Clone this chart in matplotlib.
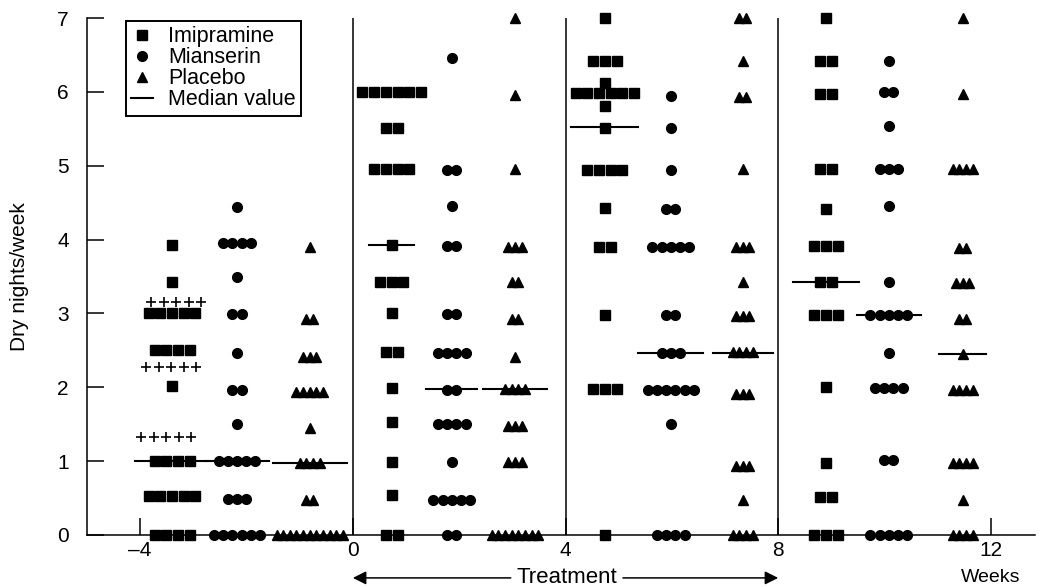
import numpy as np
import matplotlib
matplotlib.use("Agg")
import matplotlib.pyplot as plt
from matplotlib.lines import Line2D
from matplotlib import transforms

plt.rcParams['font.family'] = ['Liberation Sans', 'DejaVu Sans']

# (dry nights/week, number of children) per row, one list per drug and period
imip_base = [(3.92, 1), (3.43, 1), (3.0, 5), (2.5, 4), (2.02, 1), (1.0, 4), (0.53, 5), (0.0, 4)]
mian_base = [(4.44, 1), (3.96, 4), (3.49, 1), (2.99, 2), (2.46, 1), (1.96, 2), (1.5, 1),
             (1.0, 5), (0.49, 3), (0.0, 6)]
plac_base = [(3.9, 1), (2.92, 2), (2.41, 3), (1.93, 5), (1.45, 1), (0.98, 4), (0.47, 2), (0.0, 11)]

imip_wk4 = [(6.0, 6), (5.51, 2), (4.95, 4), (3.92, 1), (3.43, 3), (3.0, 1), (2.48, 2), (1.99, 1),
            (1.53, 1), (0.99, 1), (0.54, 1), (0.0, 2)]
mian_wk4 = [(6.46, 1), (4.94, 2), (4.45, 1), (3.91, 2), (2.99, 2), (2.47, 4), (1.97, 2), (1.5, 4),
            (0.99, 1), (0.48, 5), (0.0, 2)]
plac_wk4 = [(7.0, 1), (5.96, 1), (4.95, 1), (3.9, 3), (3.42, 2), (2.92, 2), (2.41, 1), (1.98, 4),
            (1.47, 3), (0.99, 3), (0.0, 8)]

imip_wk8 = [(7.0, 1), (6.42, 3), (6.12, 1), (5.98, 6), (5.81, 1), (5.51, 1), (4.94, 4), (4.43, 1),
            (3.9, 2), (2.98, 1), (1.98, 3), (0.0, 1)]
mian_wk8 = [(5.95, 1), (5.51, 1), (4.94, 1), (4.41, 2), (3.9, 5), (2.98, 2), (2.47, 3), (1.97, 6),
            (1.5, 1), (0.0, 4)]
plac_wk8 = [(7.0, 2), (6.42, 1), (5.93, 2), (4.95, 1), (3.9, 3), (3.42, 1), (2.96, 3), (2.48, 4),
            (1.91, 3), (0.94, 3), (0.48, 1), (0.0, 4)]

imip_wk12 = [(7.0, 1), (6.42, 2), (5.97, 2), (4.95, 2), (4.42, 1), (3.91, 3), (3.43, 2), (2.98, 3),
             (2.0, 1), (0.98, 1), (0.52, 2), (0.0, 3)]
mian_wk12 = [(6.42, 1), (6.0, 2), (5.54, 1), (4.95, 3), (4.45, 1), (3.43, 1), (2.98, 5), (2.47, 1),
             (1.99, 4), (1.02, 2), (0.0, 5)]
plac_wk12 = [(7.0, 1), (5.97, 1), (4.96, 4), (3.89, 2), (3.41, 3), (2.92, 2), (2.45, 1), (1.97, 4),
             (0.98, 4), (0.48, 1), (0.0, 4)]

# median values per period (baseline, 0-4, 4-8, 8-12 weeks)
imip_median = [1.0, 3.92, 5.52, 3.43]
mian_median = [1.0, 1.98, 2.47, 2.98]
plac_median = [0.97, 1.98, 2.47, 2.45]

# extra "+" rows in the baseline imipramine column
plus_vals = [3.15, 2.27, 1.33]
plus_counts = [5, 5, 5]

# column centres (weeks) and median line widths
imip_x = [-3.4, 0.73, 4.74, 8.9]
mian_x = [-2.18, 1.86, 5.98, 10.08]
plac_x = [-0.81, 3.05, 7.33, 11.47]
imip_mw = [1.4, 0.85, 1.26, 1.24]
mian_mw = [1.2, 0.95, 1.22, 1.2]
plac_mw = [1.4, 1.2, 1.13, 0.88]

fig = plt.figure(figsize=(10.49, 5.87), dpi=100)
ax = fig.add_axes([87 / 1049, 52 / 587, 948 / 1049, 517 / 587])


def draw_column(rows, cx, marker, ms, step):
    for v, n in rows:
        xs = cx + (np.arange(n) - (n - 1) / 2) * step
        ax.plot(xs, np.full(n, v), ls='none', marker=marker, ms=ms, color='black',
                mec='black', clip_on=False, zorder=3)


imip = [imip_base, imip_wk4, imip_wk8, imip_wk12]
mian = [mian_base, mian_wk4, mian_wk8, mian_wk12]
plac = [plac_base, plac_wk4, plac_wk8, plac_wk12]

for i in range(4):
    draw_column(imip[i], imip_x[i], 's', 6.6, 0.22)
    draw_column(mian[i], mian_x[i], 'o', 7.0, 0.173)
    draw_column(plac[i], plac_x[i], '^', 7.0, 0.125)
    for med, cx, w in [(imip_median[i], imip_x[i], imip_mw[i]),
                       (mian_median[i], mian_x[i], mian_mw[i]),
                       (plac_median[i], plac_x[i], plac_mw[i])]:
        ax.plot([cx - w / 2, cx + w / 2], [med, med], color='black', lw=1.5, zorder=2)

plus_shift = [0.075, -0.02, -0.11]
for v, n, s in zip(plus_vals, plus_counts, plus_shift):
    xs = imip_x[0] + s + (np.arange(n) - (n - 1) / 2) * 0.235
    ax.plot(xs, np.full(n, v), ls='none', marker='+', ms=7.5, mew=1.2, color='black', zorder=3)

for xv in [0, 4, 8]:
    ax.axvline(xv, color='black', lw=1.1, zorder=1)

ax.set_xlim(-5, 12.83)
ax.set_ylim(0, 7)
ax.spines['top'].set_visible(False)
ax.spines['right'].set_visible(False)
ax.spines['left'].set_linewidth(1.1)
ax.spines['bottom'].set_linewidth(1.1)
ax.set_xticks([-4, 0, 4, 8, 12])
ax.set_xticklabels(['\u20134', '0', '4', '8', '12'])
ax.set_yticks(range(8))
ax.tick_params(axis='both', direction='in', length=12, width=1.1, labelsize=15)
ax.tick_params(axis='y', pad=13)
ax.tick_params(axis='x', pad=4)
ax.set_ylabel('Dry nights/week', fontsize=15, labelpad=20)

handles = [Line2D([], [], ls='none', marker='s', ms=6.6, color='black'),
           Line2D([], [], ls='none', marker='o', ms=7, color='black'),
           Line2D([], [], ls='none', marker='^', ms=7, color='black'),
           Line2D([], [], color='black', lw=1.5)]
leg = ax.legend(handles, ['Imipramine', 'Mianserin', 'Placebo', 'Median value'],
                loc='upper left', bbox_to_anchor=(0.041, 0.994), borderaxespad=0,
                fontsize=15.5, fancybox=False, framealpha=1, edgecolor='black',
                handlelength=1.0, handletextpad=0.7, labelspacing=0.0, borderpad=0.25)
leg.get_frame().set_linewidth(1.4)

trans = transforms.blended_transform_factory(ax.transData, ax.transAxes)
ty = -0.083
ax.text(4.02, ty, 'Treatment', transform=trans, ha='center', va='center', fontsize=16)
arrow = dict(arrowstyle='-|>', mutation_scale=20, lw=1.1, color='black', shrinkA=0, shrinkB=0)
ax.annotate('', xy=(0, ty), xytext=(2.97, ty), xycoords=trans, textcoords=trans, arrowprops=arrow)
ax.annotate('', xy=(8, ty), xytext=(5.08, ty), xycoords=trans, textcoords=trans, arrowprops=arrow)
ax.text(12, ty, 'Weeks', transform=trans, ha='center', va='center', fontsize=14)

fig.savefig('out.png', dpi=100)
